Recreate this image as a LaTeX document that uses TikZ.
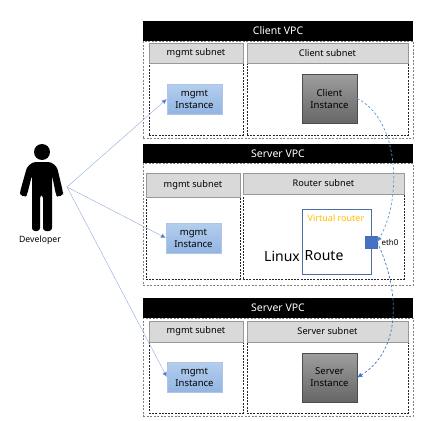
\documentclass[tikz,border=0pt]{standalone}
\usepackage{fontspec}
\setmainfont{Noto Sans}
\usetikzlibrary{arrows.meta}
\definecolor{subnetgray}{HTML}{D9D9D9}
\definecolor{linkblue}{HTML}{8FAADC}
\definecolor{flowblue}{HTML}{5B9BD5}
\definecolor{routerblue}{HTML}{4A6FA5}
\definecolor{portblue}{HTML}{4472C4}
\definecolor{routergold}{HTML}{FFC000}
\definecolor{instlight}{HTML}{B4CEEE}
\definecolor{instdark}{HTML}{92B5E2}
\tikzset{
  vpchead/.style={fill=black, text=white, minimum width=270pt, minimum height=20pt, inner sep=0pt, font=\fontsize{10.5}{12}\selectfont},
  vpcbox/.style={draw=black!50, dash pattern=on 2pt off 1.5pt, line width=0.5pt, minimum width=270pt, inner sep=0pt},
  subhead/.style={fill=subnetgray, draw=black!40, line width=0.4pt, inner sep=0pt, font=\fontsize{9.2}{11}\selectfont},
  subbox/.style={draw=black!85, dash pattern=on 2pt off 1.2pt, line width=0.5pt, inner sep=0pt},
  mgmtinst/.style={top color=instlight, bottom color=instdark, draw=linkblue!70, line width=0.3pt, minimum width=55pt, minimum height=30pt, inner sep=0pt, align=center, font=\fontsize{9.5}{12}\selectfont},
  vminst/.style={top color=black!38, bottom color=black!60, draw=black!70, line width=0.4pt, minimum width=55pt, minimum height=49pt, inner sep=0pt, align=center, font=\fontsize{9.5}{12}\selectfont},
  devlink/.style={draw=linkblue, line width=0.4pt, -{Latex[length=5pt,width=5pt,fill=portblue]}},
  flowlink/.style={draw=flowblue, dash pattern=on 2.5pt off 2pt, line width=0.7pt, -{Latex[length=5pt,width=5pt,fill=portblue]}},
  plain/.style={inner sep=0pt}
}
\begin{document}
\begin{tikzpicture}[x=1pt,y=-1pt]
  \useasboundingbox (0,0) rectangle (430,420);

  % Client VPC
  \node[vpcbox, minimum height=97pt] (vpcA) at (278,89.5) {};
  \node[vpchead] (headA) at (278,31) {Client VPC};
  \node[subbox, minimum width=94pt, minimum height=72pt] (mgmtboxA) at (196,99) {};
  \node[subhead, minimum width=94pt, minimum height=20pt] (mgmtheadA) at (196,53) {mgmt subnet};
  \node[subbox, minimum width=161pt, minimum height=72pt] (clientbox) at (327.5,99) {};
  \node[subhead, minimum width=161pt, minimum height=20pt] (clienthead) at (327.5,53) {Client subnet};
  \node[mgmtinst] (mgmtA) at (194.5,99) {mgmt\\Instance};
  \node[vminst] (client) at (329.5,98.5) {Client\\Instance};

  % Server VPC with the router
  \node[vpcbox, minimum height=122pt] (vpcB) at (278,224) {};
  \node[vpchead, minimum height=19pt] (headB) at (278,153.5) {Server VPC};
  \node[subbox, minimum width=94pt, minimum height=82pt] (mgmtboxB) at (193,238) {};
  \node[subhead, minimum width=94pt, minimum height=24pt] (mgmtheadB) at (193,185) {mgmt subnet};
  \node[subbox, minimum width=161pt, minimum height=85pt] (routerbox) at (323.5,236.5) {};
  \node[subhead, minimum width=161pt, minimum height=21pt] (routerhead) at (323.5,183.5) {Router subnet};
  \node[mgmtinst] (mgmtB) at (193.5,238) {mgmt\\Instance};
  \node[draw=routerblue, fill=white, line width=0.8pt, minimum width=69pt, minimum height=65pt, inner sep=0pt] (router) at (336.5,241.5) {};
  \node[plain, text=routergold, font=\fontsize{9}{11}\selectfont] (routername) at (336,218) {Virtual router};
  \node[plain, font=\fontsize{14}{16}\selectfont] (linux) at (282,256) {Linux};
  \node[plain, font=\fontsize{14}{16}\selectfont] (route) at (324,256) {Route};
  \node[fill=portblue, draw=routerblue, line width=0.3pt, minimum size=12pt, inner sep=0pt] (eth) at (371,242) {};
  \node[plain, font=\fontsize{8}{10}\selectfont] (ethname) at (390,242) {eth0};

  % Server VPC
  \node[vpcbox, minimum height=98pt] (vpcC) at (278,367) {};
  \node[vpchead] (headC) at (278,308) {Server VPC};
  \node[subbox, minimum width=94pt, minimum height=71pt] (mgmtboxC) at (196,377.5) {};
  \node[subhead, minimum width=94pt, minimum height=21pt] (mgmtheadC) at (196,331.5) {mgmt subnet};
  \node[subbox, minimum width=161pt, minimum height=71pt] (serverbox) at (327.5,377.5) {};
  \node[subhead, minimum width=161pt, minimum height=21pt] (serverhead) at (327.5,331.5) {Server subnet};
  \node[mgmtinst] (mgmtC) at (194.5,377) {mgmt\\Instance};
  \node[vminst] (server) at (329.5,377.5) {Server\\Instance};

  % Developer figure
  \fill (42,152) circle (8pt);
  \fill[rounded corners=3pt] (33,162) -- (51,162) -- (57,167) -- (63,192) -- (63,195) -- (58,197) -- (56,195) -- (52,175)
    -- (52,231) -- (43,231) -- (43,195) -- (40,195) -- (40,231) -- (32,231) -- (32,175)
    -- (27,195) -- (25,197) -- (20,195) -- (20,192) -- (27,167) -- cycle;
  \node[plain, font=\fontsize{8.7}{10}\selectfont] (developer) at (40,240) {Developer};
  \coordinate (hub) at (67,187);

  \draw[devlink] (hub) -- (mgmtA.west);
  \draw[devlink] (hub) -- (mgmtB.west);
  \draw[devlink] (hub) -- (mgmtC.west);

  % traffic through the router
  \draw[flowlink] (client.east) .. controls (400,120) and (402,200) .. (eth.east);
  \draw[flowlink, draw=portblue] (eth.east) .. controls (400,290) and (402,350) .. (server.east);
\end{tikzpicture}
\end{document}
